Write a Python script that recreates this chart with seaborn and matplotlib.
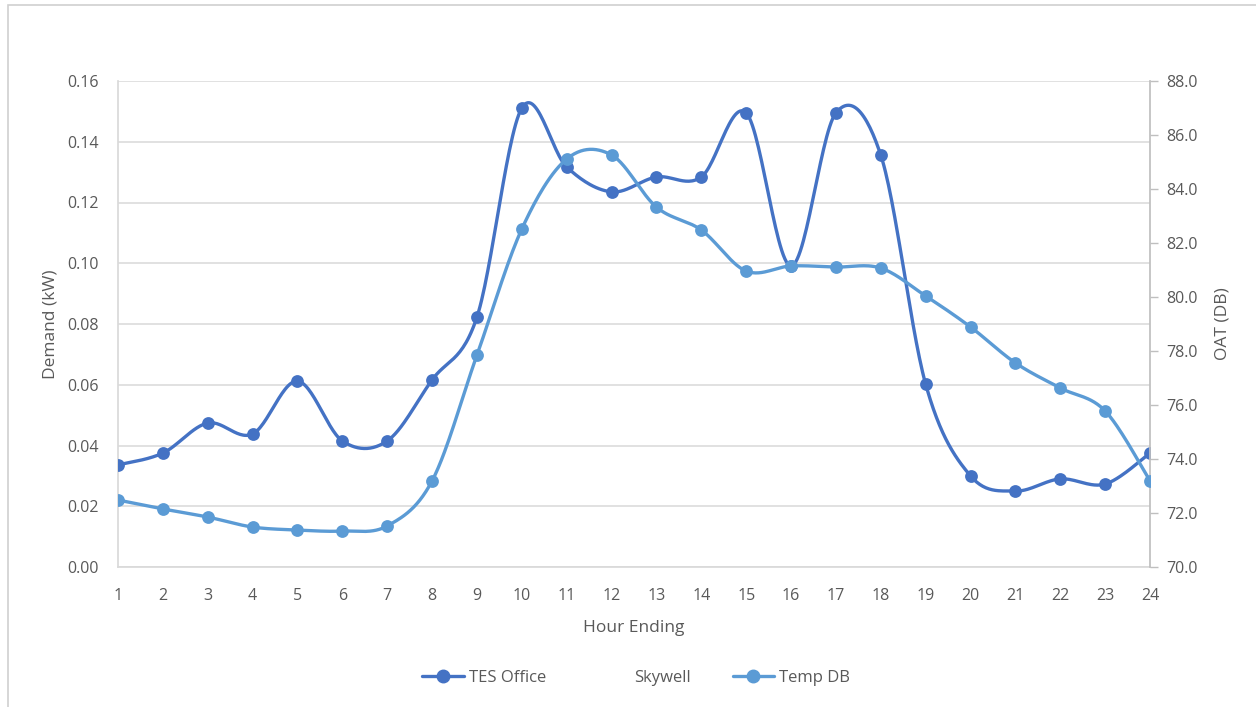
import numpy as np
import pandas as pd
import matplotlib
matplotlib.use("Agg")
import matplotlib.pyplot as plt
from matplotlib.lines import Line2D
from matplotlib.patches import Rectangle
import seaborn as sns

sns.set_theme(style="white")
plt.rcParams['font.family'] = ['Open Sans', 'DejaVu Sans']

# ---- data ----
hours = list(range(1, 25))
tes_office = [0.0336, 0.0375, 0.0474, 0.0438, 0.0612, 0.0415, 0.0415, 0.0616,
              0.0823, 0.1511, 0.1317, 0.1235, 0.1284, 0.1284, 0.1495, 0.0991,
              0.1495, 0.1356, 0.0602, 0.0300, 0.0250, 0.0290, 0.0273, 0.0375]
temp_db = [72.48, 72.15, 71.85, 71.48, 71.37, 71.33, 71.52, 73.19,
           77.85, 82.52, 85.11, 85.26, 83.33, 82.48, 80.96, 81.15,
           81.11, 81.07, 80.04, 78.89, 77.56, 76.63, 75.78, 73.19]

dark_blue = "#4472C4"
light_blue = "#5B9BD5"
text_grey = "#595959"


def smooth(x, y, n=30):
    # Excel-style smoothed line (Catmull-Rom bezier through the points)
    p = np.column_stack([x, y]).astype(float)
    p = np.vstack([p[0], p, p[-1]])
    out = []
    for i in range(1, len(p) - 2):
        p0, p3 = p[i], p[i + 1]
        p1 = p0 + (p[i + 1] - p[i - 1]) / 6
        p2 = p3 - (p[i + 2] - p[i]) / 6
        t = np.linspace(0, 1, n)[:, None]
        seg = ((1 - t) ** 3) * p0 + 3 * ((1 - t) ** 2) * t * p1 + 3 * (1 - t) * t ** 2 * p2 + t ** 3 * p3
        out.append(seg if i == 1 else seg[1:])
    out = np.vstack(out)
    return pd.DataFrame({"x": out[:, 0], "y": out[:, 1]})


df = pd.DataFrame({"hour": hours, "tes": tes_office, "temp": temp_db})

fig = plt.figure(figsize=(12.56, 7.07), dpi=100)
fig.patches.append(Rectangle((8 / 1256, -0.05), 1.1, 0.05 + (707 - 5) / 707,
                             transform=fig.transFigure, fill=False,
                             edgecolor="#D0D0D0", linewidth=1.2))
ax = fig.add_axes([118 / 1256, 140 / 707, 1032 / 1256, 486 / 707])
ax2 = ax.twinx()

# ---- TES Office (left axis) ----
sns.lineplot(data=smooth(hours, tes_office), x="x", y="y", ax=ax, sort=False,
             estimator=None, color=dark_blue, linewidth=2.4)
sns.scatterplot(data=df, x="hour", y="tes", ax=ax, color=dark_blue, s=85,
                edgecolor=dark_blue, linewidth=0, zorder=3)

# ---- Temp DB (right axis) ----
sns.lineplot(data=smooth(hours, temp_db), x="x", y="y", ax=ax2, sort=False,
             estimator=None, color=light_blue, linewidth=2.4)
sns.scatterplot(data=df, x="hour", y="temp", ax=ax2, color=light_blue, s=85,
                edgecolor=light_blue, linewidth=0, zorder=3)

ax.set_xlim(1, 24)
ax.set_ylim(0, 0.16)
ax2.set_ylim(70, 88)
ax.set_xticks(hours)
ax.set_yticks(np.arange(0, 0.161, 0.02))
ax2.set_yticks(np.arange(70, 88.1, 2))
ax.yaxis.set_major_formatter(matplotlib.ticker.FormatStrFormatter("%.2f"))
ax2.yaxis.set_major_formatter(matplotlib.ticker.FormatStrFormatter("%.1f"))

ax.grid(axis="y", color="#D9D9D9", linewidth=1.1)
ax.grid(axis="x", visible=False)
ax2.grid(False)
for a in (ax, ax2):
    for s in a.spines.values():
        s.set_visible(False)
ax.spines["left"].set_visible(True)
ax.spines["left"].set_color("#D9D9D9")
ax.spines["bottom"].set_visible(True)
ax.spines["bottom"].set_color("#D9D9D9")
ax2.spines["right"].set_visible(True)
ax2.spines["right"].set_color("#BFBFBF")

ax.tick_params(axis="y", length=0, pad=14, labelsize=11.5, labelcolor=text_grey)
ax.tick_params(axis="x", length=0, pad=15, labelsize=11.5, labelcolor=text_grey)
ax2.tick_params(axis="y", length=6, width=1, color="#BFBFBF", direction="out",
                pad=6, labelsize=11.5, labelcolor=text_grey)

ax.set_xlabel("Hour Ending", fontsize=12.5, color=text_grey, labelpad=12)
ax.set_ylabel("Demand (kW)", fontsize=12.5, color=text_grey, labelpad=6)
ax2.set_ylabel("OAT (DB)", fontsize=12.5, color=text_grey, labelpad=12)

handles = [
    Line2D([], [], color=dark_blue, linewidth=2.4, marker="o", markersize=9),
    Line2D([], [], color="none", linewidth=0),
    Line2D([], [], color=light_blue, linewidth=2.4, marker="o", markersize=9),
]
leg = fig.legend(handles, ["TES Office", "Skywell", "Temp DB"], loc="center",
                 bbox_to_anchor=(636 / 1256, 1 - 678 / 707), ncol=3, frameon=False,
                 fontsize=12, handlelength=2.5, handletextpad=0.3, columnspacing=2.5)
for t in leg.get_texts():
    t.set_color(text_grey)

fig.savefig("out.png", dpi=100)
